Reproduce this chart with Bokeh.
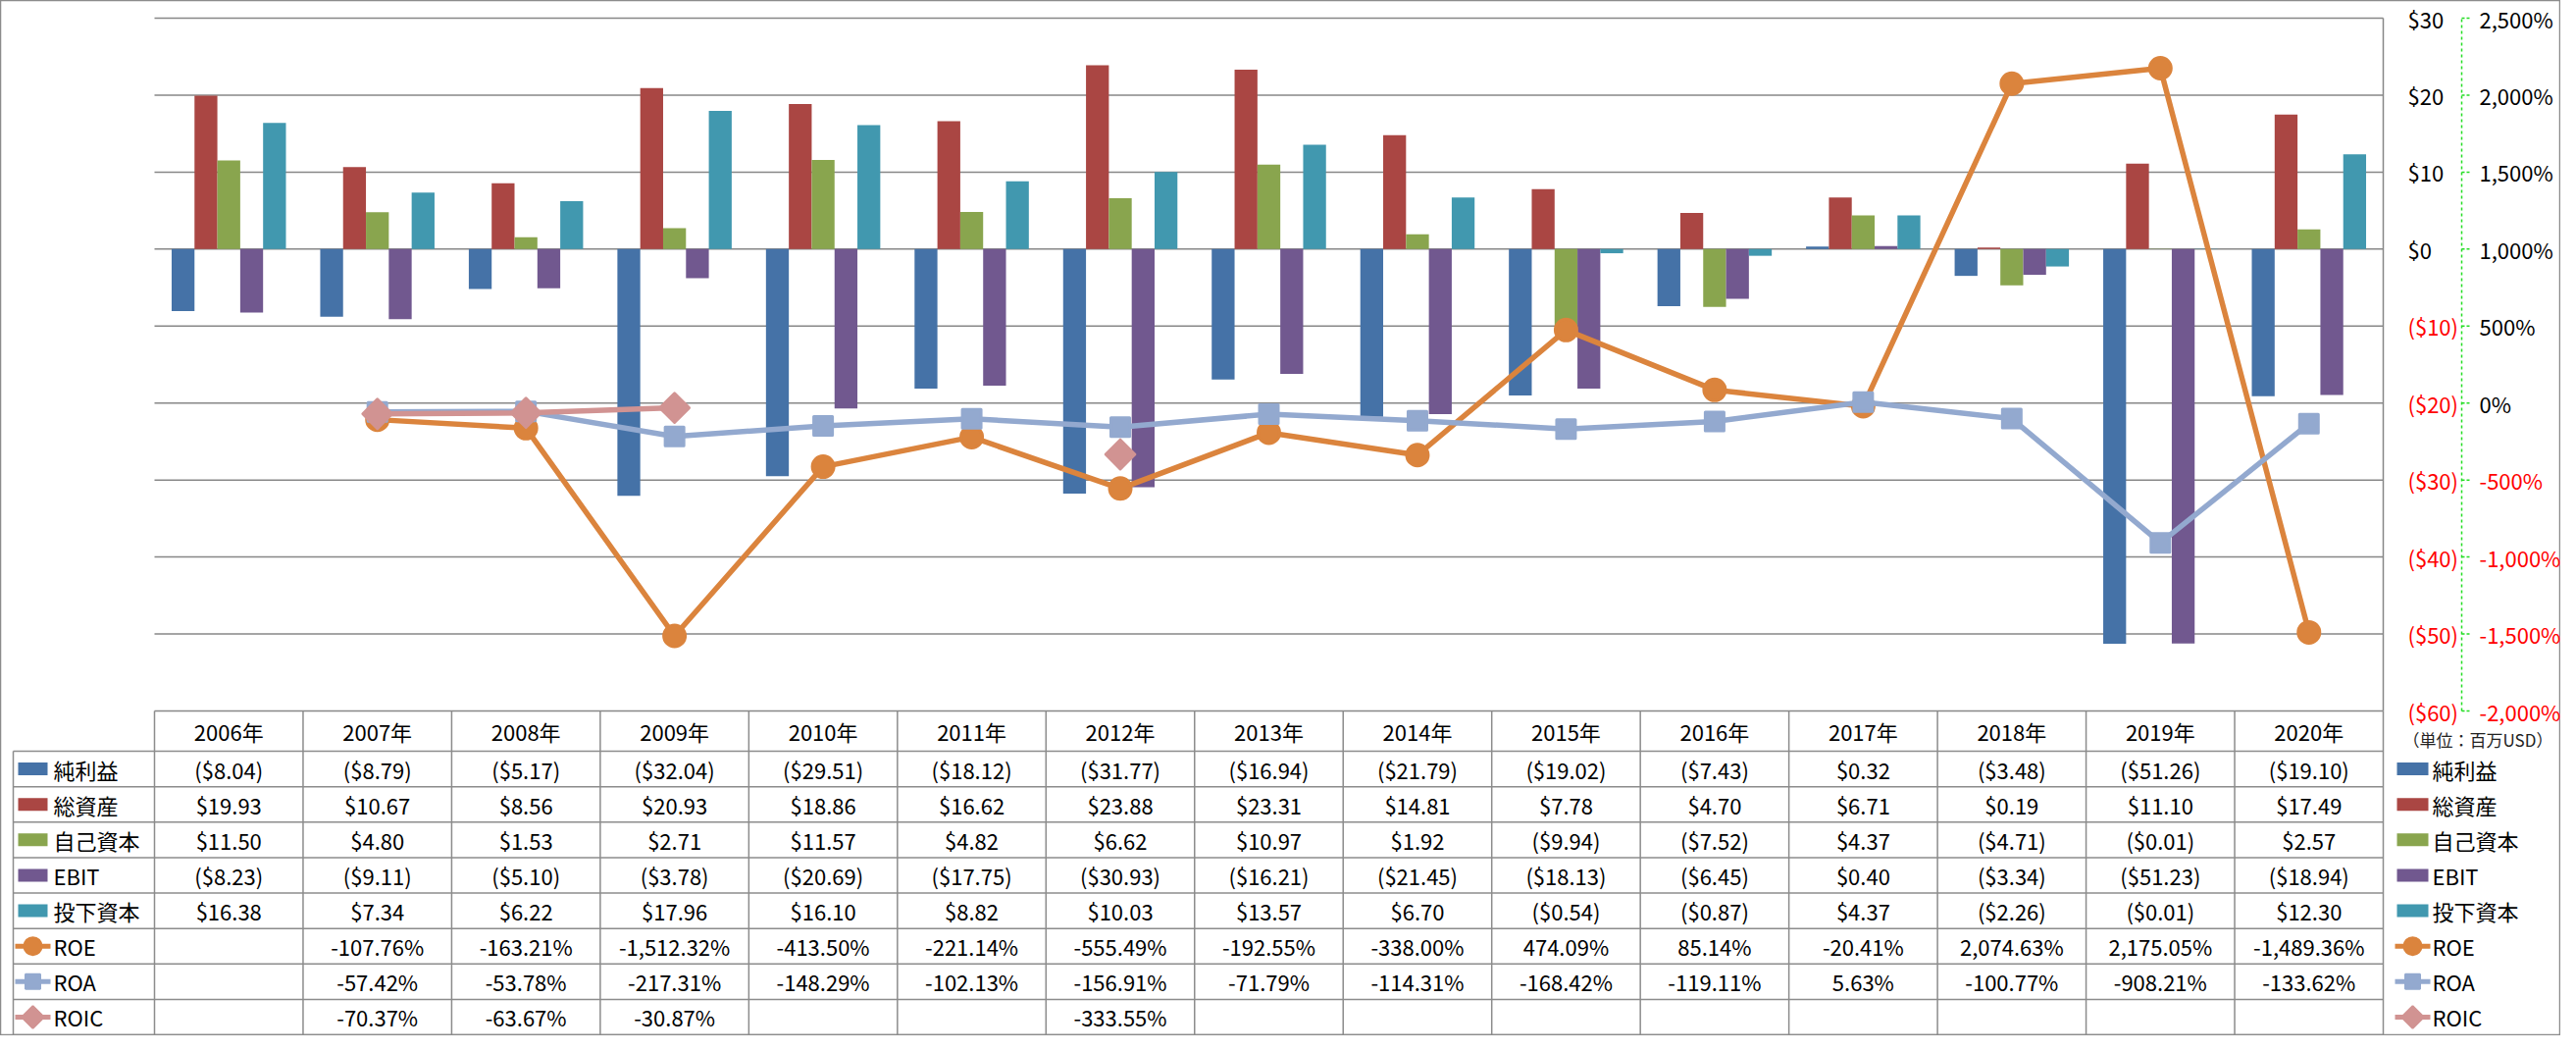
import math
from bokeh.plotting import figure
from bokeh.models import Range1d, ColumnDataSource
from bokeh.transform import dodge
from bokeh.core.properties import value
from bokeh.embed import file_html
from bokeh.resources import INLINE

# ---------------- data ----------------
years = ["2006年", "2007年", "2008年", "2009年", "2010年", "2011年", "2012年", "2013年",
         "2014年", "2015年", "2016年", "2017年", "2018年", "2019年", "2020年"]
net_income = [-8.04, -8.79, -5.17, -32.04, -29.51, -18.12, -31.77, -16.94, -21.79, -19.02, -7.43, 0.32, -3.48, -51.26, -19.10]
total_assets = [19.93, 10.67, 8.56, 20.93, 18.86, 16.62, 23.88, 23.31, 14.81, 7.78, 4.70, 6.71, 0.19, 11.10, 17.49]
equity = [11.50, 4.80, 1.53, 2.71, 11.57, 4.82, 6.62, 10.97, 1.92, -9.94, -7.52, 4.37, -4.71, -0.01, 2.57]
ebit = [-8.23, -9.11, -5.10, -3.78, -20.69, -17.75, -30.93, -16.21, -21.45, -18.13, -6.45, 0.40, -3.34, -51.23, -18.94]
invested = [16.38, 7.34, 6.22, 17.96, 16.10, 8.82, 10.03, 13.57, 6.70, -0.54, -0.87, 4.37, -2.26, -0.01, 12.30]
NA = float("nan")
roe = [NA, -107.76, -163.21, -1512.32, -413.50, -221.14, -555.49, -192.55, -338.00, 474.09, 85.14, -20.41, 2074.63, 2175.05, -1489.36]
roa = [NA, -57.42, -53.78, -217.31, -148.29, -102.13, -156.91, -71.79, -114.31, -168.42, -119.11, 5.63, -100.77, -908.21, -133.62]
roic = [NA, -70.37, -63.67, -30.87, NA, NA, -333.55, NA, NA, NA, NA, NA, NA, NA, NA]
bar_names = ["純利益", "総資産", "自己資本", "EBIT", "投下資本"]
line_names = ["ROE", "ROA", "ROIC"]
usd_ticks = [30, 20, 10, 0, -10, -20, -30, -40, -50, -60]
pct_ticks = [2500, 2000, 1500, 1000, 500, 0, -500, -1000, -1500, -2000]
unit_caption = "（単位：百万USD）"

bar_series = [net_income, total_assets, equity, ebit, invested]
line_series = [roe, roa, roic]

# ---------------- style / layout ----------------
BAR_COLORS = ["#4572A7", "#AA4643", "#89A54E", "#71588F", "#4198AF"]
LINE_COLORS = ["#DB843D", "#93A9CF", "#D19392"]
MARKERS = ["circle", "square", "square"]
ANGLES = [0, 0, math.pi / 4]
SIZES = [22, 19, 21]
KEY_SIZES = [18, 15, 16]
FONT = value("Noto Sans CJK JP")
GRID = "#878787"
TBL = "#8c8c8c"
TXT = "#000000"
NEG = "#ff0000"

W, H = 2610, 1055
PL, PR, PT, PB = 157, 2429, 18, 724
HB = PB + 41          # header bottom
TB = 1054             # table bottom
n = len(years)
cw = (PR - PL) / n
umin, umax = min(usd_ticks), max(usd_ticks)
ppu = (PB - PT) / (umax - umin)
ys0 = umin - (H - PB) / ppu
ys1 = umax + PT / ppu
pmin, pmax = min(pct_ticks), max(pct_ticks)
kk = (pmax - pmin) / (umax - umin)

p = figure(width=W, height=H, output_backend="svg", toolbar_location=None, tools="",
           x_range=Range1d(-PL / cw, (W - PL) / cw), y_range=Range1d(ys0, ys1),
           x_axis_location=None, y_axis_location=None, min_border=0)
p.extra_x_ranges = {"px": Range1d(0, W)}
p.extra_y_ranges = {"pct": Range1d(pmin + (ys0 - umin) * kk, pmin + (ys1 - umin) * kk),
                    "px": Range1d(H, 0)}
p.outline_line_color = TBL
p.outline_line_width = 1.5
p.xgrid.grid_line_color = None
p.ygrid.grid_line_color = None
p.background_fill_color = "white"
p.border_fill_color = "white"

def money(v):
    return f"(${abs(v):,.2f})" if v < 0 else f"${v:,.2f}"

def pct(v):
    return "" if v != v else f"{v:,.2f}%"

# grid lines
p.segment(x0=[0] * len(usd_ticks), x1=[n] * len(usd_ticks), y0=usd_ticks, y1=usd_ticks,
          line_color=GRID, line_width=1.5)
# plot right border
p.segment(x0=[n], x1=[n], y0=[umax], y1=[umin], line_color=GRID, line_width=1.5)

# bars
xc = [i + 0.5 for i in range(n)]
src = ColumnDataSource(dict(x=xc, **{f"s{j}": s for j, s in enumerate(bar_series)}))
bw = 1 / 6.5
for j in range(len(bar_series)):
    p.vbar(x=dodge("x", (j - 2) * bw), top=f"s{j}", bottom=0, width=bw,
           fill_color=BAR_COLORS[j], line_color=None, source=src)

# lines
for vals, col, mk, ang, sz in zip(line_series, LINE_COLORS, MARKERS, ANGLES, SIZES):
    p.line(xc, vals, y_range_name="pct", line_color=col, line_width=5.5, line_join="round")
    p.scatter(xc, vals, y_range_name="pct", marker=mk, angle=ang, size=sz,
              fill_color=col, line_color=col, line_width=3, line_join="round")

# right axes
usd_labels = [f"(${abs(t)})" if t < 0 else f"${t}" for t in usd_ticks]
p.text(x=[2454] * len(usd_ticks), y=usd_ticks, text=usd_labels, x_range_name="px",
       text_align="left", text_baseline="middle", text_font=FONT, text_font_size="22px",
       text_color=[NEG if t < 0 else TXT for t in usd_ticks])
p.line(x=[2509, 2509], y=[umin, umax], x_range_name="px", line_color="#22dd22",
       line_dash="3 3", line_width=1.5)
p.segment(x0=[2509] * len(usd_ticks), x1=[2517] * len(usd_ticks), y0=usd_ticks, y1=usd_ticks,
          x_range_name="px", line_color="#22dd22", line_dash="3 2", line_width=1.5)
pct_labels = [f"{t:,}%" for t in pct_ticks]
p.text(x=[2527] * len(pct_ticks), y=pct_ticks, text=pct_labels, x_range_name="px", y_range_name="pct",
       text_align="left", text_baseline="middle", text_font=FONT, text_font_size="22px",
       text_color=[NEG if t < 0 else TXT for t in pct_ticks])
p.text(x=[2449], y=[753], text=[unit_caption], x_range_name="px", y_range_name="px",
       text_align="left", text_baseline="middle", text_font=FONT, text_font_size="17px",
       text_color="#222222")

# ---------------- data table ----------------
nrows = len(bar_series) + len(line_series)
rh = (TB - HB) / nrows
hl_y = [HB + r * rh for r in range(nrows + 1)]
p.segment(x0=[13] * len(hl_y), x1=[PR] * len(hl_y), y0=hl_y, y1=hl_y,
          x_range_name="px", y_range_name="px", line_color=TBL, line_width=1.5)
p.segment(x0=list(range(n + 1)), x1=list(range(n + 1)), y0=[PB] * (n + 1), y1=[TB] * (n + 1),
          y_range_name="px", line_color=TBL, line_width=1.5)
p.segment(x0=[13], x1=[13], y0=[HB], y1=[TB], x_range_name="px", y_range_name="px",
          line_color=TBL, line_width=1.5)

# header
p.text(x=xc, y=[PB + 20.5] * n, text=years, y_range_name="px", text_align="center",
       text_baseline="middle", text_font=FONT, text_font_size="22px", text_color=TXT)

# cells
cx, cy, ct = [], [], []
for r, s in enumerate(bar_series):
    for i, v in enumerate(s):
        cx.append(xc[i]); cy.append(HB + (r + 0.5) * rh); ct.append(money(v))
for r, s in enumerate(line_series):
    for i, v in enumerate(s):
        cx.append(xc[i]); cy.append(HB + (len(bar_series) + r + 0.5) * rh); ct.append(pct(v))
p.text(x=cx, y=cy, text=ct, y_range_name="px", text_align="center", text_baseline="middle",
       text_font=FONT, text_font_size="22px", text_color=TXT)

# row labels (left) and legend (right)
row_y = [HB + (r + 0.5) * rh for r in range(nrows)]
names = bar_names + line_names
for key_c, key_w, txt_x in [(33, 30, 54), (2459, 32, 2479)]:
    nb = len(bar_names)
    p.rect(x=[key_c] * nb, y=row_y[:nb], width=key_w, height=13, width_units="screen",
           height_units="screen", fill_color=BAR_COLORS, line_color=None,
           x_range_name="px", y_range_name="px")
    for m in range(len(line_names)):
        yy = row_y[nb + m]
        p.segment(x0=[key_c - 18], x1=[key_c + 18], y0=[yy], y1=[yy], x_range_name="px",
                  y_range_name="px", line_color=LINE_COLORS[m], line_width=5)
        p.scatter(x=[key_c], y=[yy], x_range_name="px", y_range_name="px", marker=MARKERS[m],
                  angle=ANGLES[m], size=KEY_SIZES[m], fill_color=LINE_COLORS[m],
                  line_color=LINE_COLORS[m], line_width=2)
    p.text(x=[txt_x] * nrows, y=row_y, text=names, x_range_name="px", y_range_name="px",
           text_align="left", text_baseline="middle", text_font=FONT, text_font_size="22px",
           text_color=TXT)

open("out.html", "w").write(file_html(p, INLINE))
